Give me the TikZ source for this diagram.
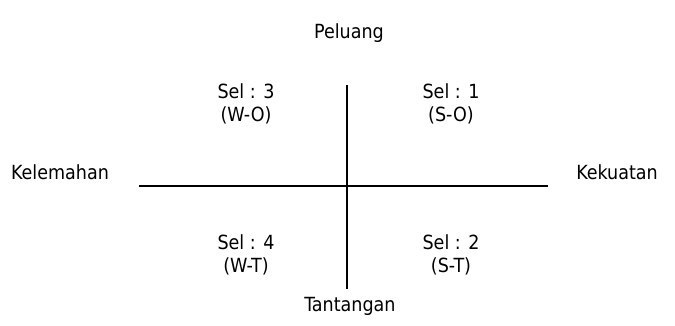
\documentclass[tikz,border=0pt]{standalone}
\usepackage{fontspec}
\setmainfont{DejaVu Sans Condensed}
\begin{document}
\begin{tikzpicture}[x=1pt,y=-1pt,
  lbl/.style={inner sep=0pt,font=\fontsize{19.5}{23}\selectfont,align=center},
  axis/.style={line width=1.6pt}]
\useasboundingbox (0,0) rectangle (675,325);
\node[lbl] (pel) at (349,33) {Peluang};
\node[lbl] (tan) at (350,306) {Tantangan};
\node[lbl] (kel) at (60,172) {Kelemahan};
\node[lbl] (kek) at (617,172) {Kekuatan};
\node[lbl] (s3) at (246,104) {Sel : 3\\(W-O)};
\node[lbl] (s1) at (451,104) {Sel : 1\\(S-O)};
\node[lbl] (s4) at (246,255) {Sel : 4\\(W-T)};
\node[lbl] (s2) at (451,255) {Sel : 2\\(S-T)};
\coordinate (hl) at (139,186);
\coordinate (hr) at (548,186);
\coordinate (vt) at (347,85);
\coordinate (vb) at (347,289);
\draw[axis] (hl) -- (hr);
\draw[axis] (vt) -- (vb);
\end{tikzpicture}
\end{document}
